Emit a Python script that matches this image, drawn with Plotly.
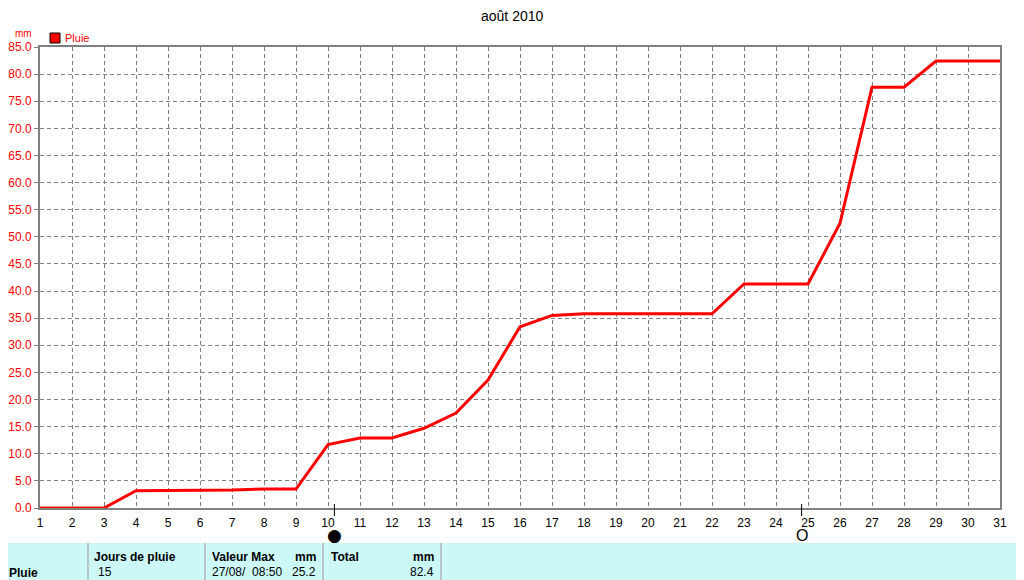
import plotly.graph_objects as go

days = list(range(1, 32))
pluie_cumul = [0.0, 0.0, 0.0, 3.2, 3.2, 3.2, 3.3, 3.5, 3.5, 11.7, 12.9, 12.9, 14.7, 17.5,
               23.6, 33.4, 35.5, 35.8, 35.8, 35.8, 35.8, 35.8, 41.3, 41.3, 41.3, 52.5,
               77.6, 77.6, 82.4, 82.4, 82.4]
moon_days = [10.2, 24.8]
moon_glyphs = ["●", "O"]
y_ticks = [i * 5.0 for i in range(18)]

title_text = "août 2010"
unit_text = "mm"
series_name = "Pluie"
table_headers = ["Jours de pluie", "Valeur Max", "mm", "Total", "mm"]
table_values = ["15", "27/08/  08:50", "25.2", "82.4"]

# the page body has an 8px margin: figure origin sits at (8, 8) in the screenshot
OFF = 8
W, H = 1024 - OFF, 580 - OFF
PLOT_L, PLOT_R, PLOT_T, PLOT_B = 40, 1000, 47, 508  # screenshot pixels
L = PLOT_L - OFF
T = PLOT_T - OFF
R = (OFF + W) - PLOT_R
B = (OFF + H) - PLOT_B
PW, PH = PLOT_R - PLOT_L, PLOT_B - PLOT_T

def px(xp):
    return (xp - PLOT_L) / PW

def py(yp):
    return (PLOT_B - yp) / PH

fig = go.Figure()
fig.add_trace(go.Scatter(x=days, y=pluie_cumul, mode="lines",
                         line=dict(color="#ff0000", width=3), name=series_name,
                         showlegend=False, hoverinfo="x+y"))

font_main = "Liberation Sans, Arial, sans-serif"
shapes = []
annotations = []
for md, g in zip(moon_days, moon_glyphs):
    shapes.append(dict(type="line", xref="x", yref="paper", x0=md, x1=md,
                       y0=py(504), y1=py(516), line=dict(color="black", width=1)))
    filled = g == "●"
    annotations.append(dict(text=g, x=md, xref="x", y=py(535), yref="paper",
                            xanchor="center", yanchor="middle", showarrow=False,
                            font=dict(size=17 if filled else 16, color="black",
                                      family="DejaVu Sans" if filled else font_main)))

# legend square
shapes.append(dict(type="rect", xref="paper", yref="paper", x0=px(50), x1=px(60),
                   y0=py(43), y1=py(33), fillcolor="#ff0000", line=dict(color="black", width=1)))

# table background
shapes.append(dict(type="rect", xref="paper", yref="paper", x0=px(0), x1=px(1022),
                   y0=py(585), y1=py(543), fillcolor="#ccf8f8", line=dict(width=0), layer="below"))
for xd in [88, 205, 323, 441]:
    shapes.append(dict(type="line", xref="paper", yref="paper", x0=px(xd), x1=px(xd),
                       y0=py(585), y1=py(543), line=dict(color="#b8c8c8", width=2)))

def txt(text, xp, yp, anchor="left", size=12, color="black", bold=False):
    t = f"<b>{text}</b>" if bold else text
    annotations.append(dict(text=t, x=px(xp), xref="paper", xanchor=anchor, y=py(yp),
                            yref="paper", yanchor="middle", showarrow=False,
                            font=dict(size=size, color=color, family=font_main)))

txt(title_text, 512, 16, anchor="center", size=14)
txt(unit_text, 13, 33, size=10, color="#ff0000")
txt(series_name, 63, 38, size=11, color="#ff0000")

txt(series_name, 7, 573, bold=True)
txt(table_headers[0], 92, 557, bold=True)
txt(table_values[0], 96, 572)
txt(table_headers[1], 210, 557, bold=True)
txt(table_headers[2], 318, 557, anchor="right", bold=True)
txt(table_values[1], 210, 572)
txt(table_values[2], 318, 572, anchor="right")
txt(table_headers[3], 329, 557, bold=True)
txt(table_headers[4], 436, 557, anchor="right", bold=True)
txt(table_values[3], 436, 572, anchor="right")

fig.update_layout(
    width=W, height=H,
    margin=dict(l=L, r=R, t=T, b=B, pad=0, autoexpand=False),
    paper_bgcolor="white", plot_bgcolor="white",
    shapes=shapes, annotations=annotations,
    showlegend=False,
    font=dict(family=font_main),
)
fig.update_xaxes(range=[1, 31], tickmode="array", tickvals=days, ticktext=[str(d) for d in days],
                 showgrid=True, gridcolor="#808080", griddash="4px,3px", gridwidth=1,
                 showline=True, linecolor="#808080", linewidth=2, mirror=True,
                 ticks="", ticklabelstandoff=3,
                 tickfont=dict(size=12, color="black", family=font_main), zeroline=False)
fig.update_yaxes(range=[0, 85], tickmode="array", tickvals=y_ticks,
                 ticktext=[f"{v:.1f}" for v in y_ticks],
                 showgrid=True, gridcolor="#808080", griddash="4px,3px", gridwidth=1,
                 showline=True, linecolor="#808080", linewidth=2, mirror=True,
                 ticks="outside", ticklen=4, tickcolor="#808080",
                 tickfont=dict(size=12, color="#ff0000", family=font_main), zeroline=False)

fig.write_html("out.html")
